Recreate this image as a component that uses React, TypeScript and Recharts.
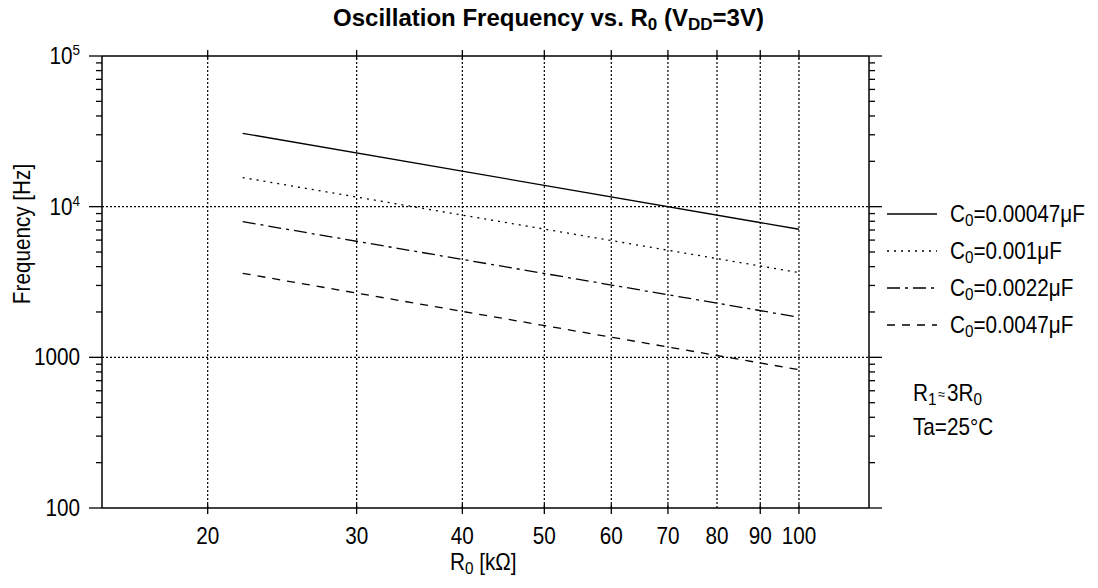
import React from "react";
import { LineChart, Line, XAxis, YAxis, ReferenceLine } from "recharts";

// R0 in kΩ, read at the two ends of each line
const resistance = [22, 100];
const freqC00047 = [30700, 7080];
const freqC0001 = [15600, 3650];
const freqC0022 = [7950, 1845];
const freqC0047 = [3610, 828];

const xTicks = [20, 30, 40, 50, 60, 70, 80, 90, 100];
const yMajorTicks = [100, 1000, 10000, 100000];
const yMinorSteps = [2, 3, 4, 5, 6, 7, 8, 9];
const yGridLines = [1000, 10000];

const capacitorLabels = ["0.00047", "0.001", "0.0022", "0.0047"];

const FONT = '"Liberation Sans", Arial, Helvetica, sans-serif';
const DASHES: (string | undefined)[] = [undefined, "2 5", "13 5 3 5", "8 7"];

const seriesKeys = ["c00047", "c0001", "c0022", "c0047"];
const seriesValues = [freqC00047, freqC0001, freqC0022, freqC0047];

const data = resistance.map((r, i) => {
  const row: Record<string, number> = { r };
  seriesKeys.forEach((k, s) => {
    row[k] = seriesValues[s][i];
  });
  return row;
});

const yTicks = [
  ...yMajorTicks,
  ...yMajorTicks.slice(0, -1).flatMap((m) => yMinorSteps.map((s) => s * m)),
].sort((a, b) => a - b);

function YLabel({ y, value }: { y: number; value: number }) {
  const exp = Math.round(Math.log10(value));
  return (
    <text
      transform={`translate(80,${y + 8}) scale(0.9,1)`}
      textAnchor="end"
      fontSize={23}
      fontFamily={FONT}
      fill="#000"
    >
      {exp >= 4 ? (
        <>
          <tspan>10</tspan>
          <tspan dy={-9} fontSize={15}>
            {exp}
          </tspan>
        </>
      ) : (
        String(value)
      )}
    </text>
  );
}

function LeftTick(props: any) {
  const { x, y, payload } = props;
  const major = yMajorTicks.includes(payload.value);
  return (
    <g>
      <line x1={x - (major ? 13 : 6)} x2={x} y1={y} y2={y} stroke="#000" strokeWidth={1.3} />
      {major && <YLabel y={y} value={payload.value} />}
    </g>
  );
}

function RightTick(props: any) {
  const { x, y, payload } = props;
  const major = yMajorTicks.includes(payload.value);
  return <line x1={x} x2={x + (major ? 13 : 6)} y1={y} y2={y} stroke="#000" strokeWidth={1.3} />;
}

function BottomTick(props: any) {
  const { x, y, payload } = props;
  return (
    <g>
      {payload.value !== 80 && (
        <line x1={x} x2={x} y1={y - 4} y2={y + 6} stroke="#000" strokeWidth={1.3} />
      )}
      <text
        transform={`translate(${x},${y + 36}) scale(0.9,1)`}
        textAnchor="middle"
        fontSize={23}
        fontFamily={FONT}
        fill="#000"
      >
        {payload.value}
      </text>
    </g>
  );
}

function TopTick(props: any) {
  const { x, y } = props;
  return <line x1={x} x2={x} y1={y - 6} y2={y + 3} stroke="#000" strokeWidth={1.3} />;
}

// subscript followed by normal text back on the baseline
function sub(s: string, after: string, subSize = 17) {
  return (
    <>
      <tspan dy={4} fontSize={subSize}>
        {s}
      </tspan>
      <tspan dy={-4}>{after}</tspan>
    </>
  );
}

export default function App() {
  const axisLine = { stroke: "#000", strokeWidth: 1.5 };
  return (
    <div style={{ position: "absolute", left: 0, top: 0, width: 1098, height: 588, background: "#fff" }}>
      <LineChart
        width={1098}
        height={588}
        data={data}
        margin={{ top: 46, right: 219, bottom: 0, left: 0 }}
      >
        <XAxis
          xAxisId="bottom"
          dataKey="r"
          type="number"
          scale="log"
          domain={[15, 121]}
          ticks={xTicks}
          interval={0}
          height={80}
          tickSize={0}
          tickMargin={0}
          tick={BottomTick}
          axisLine={axisLine}
          allowDataOverflow
        />
        <XAxis
          xAxisId="top"
          orientation="top"
          dataKey="r"
          type="number"
          scale="log"
          domain={[15, 121]}
          ticks={xTicks}
          interval={0}
          height={10}
          tickSize={0}
          tickMargin={0}
          tick={TopTick}
          axisLine={axisLine}
          allowDataOverflow
        />
        <YAxis
          yAxisId="left"
          type="number"
          scale="log"
          domain={[100, 100000]}
          ticks={yTicks}
          interval={0}
          width={102}
          tickSize={0}
          tickMargin={0}
          tick={LeftTick}
          axisLine={axisLine}
          allowDataOverflow
        />
        <YAxis
          yAxisId="right"
          orientation="right"
          type="number"
          scale="log"
          domain={[100, 100000]}
          ticks={yTicks}
          interval={0}
          width={10}
          tickSize={0}
          tickMargin={0}
          tick={RightTick}
          axisLine={axisLine}
          allowDataOverflow
        />
        {xTicks.map((v) => (
          <ReferenceLine
            key={`gx${v}`}
            x={v}
            xAxisId="bottom"
            yAxisId="left"
            stroke="#000"
            strokeWidth={1.2}
            strokeDasharray="2 2"
          />
        ))}
        {yGridLines.map((v) => (
          <ReferenceLine
            key={`gy${v}`}
            y={v}
            xAxisId="bottom"
            yAxisId="left"
            stroke="#000"
            strokeWidth={1.2}
            strokeDasharray="2 2"
          />
        ))}
        {seriesKeys.map((k, i) => (
          <Line
            key={k}
            xAxisId="bottom"
            yAxisId="left"
            type="linear"
            dataKey={k}
            stroke="#000"
            strokeWidth={1.3}
            strokeDasharray={DASHES[i]}
            dot={false}
            isAnimationActive={false}
          />
        ))}
      </LineChart>
      <svg
        width={1098}
        height={588}
        style={{ position: "absolute", left: 0, top: 0, pointerEvents: "none" }}
        fontFamily={FONT}
        fill="#000"
      >
        <text x={548.5} y={26} textAnchor="middle" fontSize={24} fontWeight="bold">
          <tspan>Oscillation Frequency vs. R</tspan>
          {sub("0", " (V")}
          {sub("DD", "=3V)")}
        </text>
        <text transform="translate(30,234) rotate(-90) scale(0.9,1)" textAnchor="middle" fontSize={23}>
          Frequency [Hz]
        </text>
        <text transform="translate(450,570) scale(0.9,1)" fontSize={23}>
          <tspan>R</tspan>
          {sub("0", " [kΩ]")}
        </text>
        {capacitorLabels.map((c, i) => {
          const y = 214 + 37 * i;
          return (
            <g key={c}>
              <line x1={887} x2={937} y1={y} y2={y} stroke="#000" strokeWidth={1.3} strokeDasharray={DASHES[i]} />
              <text transform={`translate(950,${y + 8}) scale(0.9,1)`} fontSize={23}>
                <tspan>C</tspan>
                {sub("0", `=${c}μF`)}
              </text>
            </g>
          );
        })}
        <text transform="translate(913,401) scale(0.9,1)" fontSize={23}>
          <tspan>R</tspan>
          <tspan dy={4} fontSize={17}>
            1
          </tspan>
          <tspan dy={-6} dx={2} fontSize={14}>
            ≈
          </tspan>
          <tspan dy={2} dx={2}>
            3R
          </tspan>
          {sub("0", "")}
        </text>
        <text transform="translate(913,435) scale(0.9,1)" fontSize={23}>
          Ta=25°C
        </text>
      </svg>
    </div>
  );
}
